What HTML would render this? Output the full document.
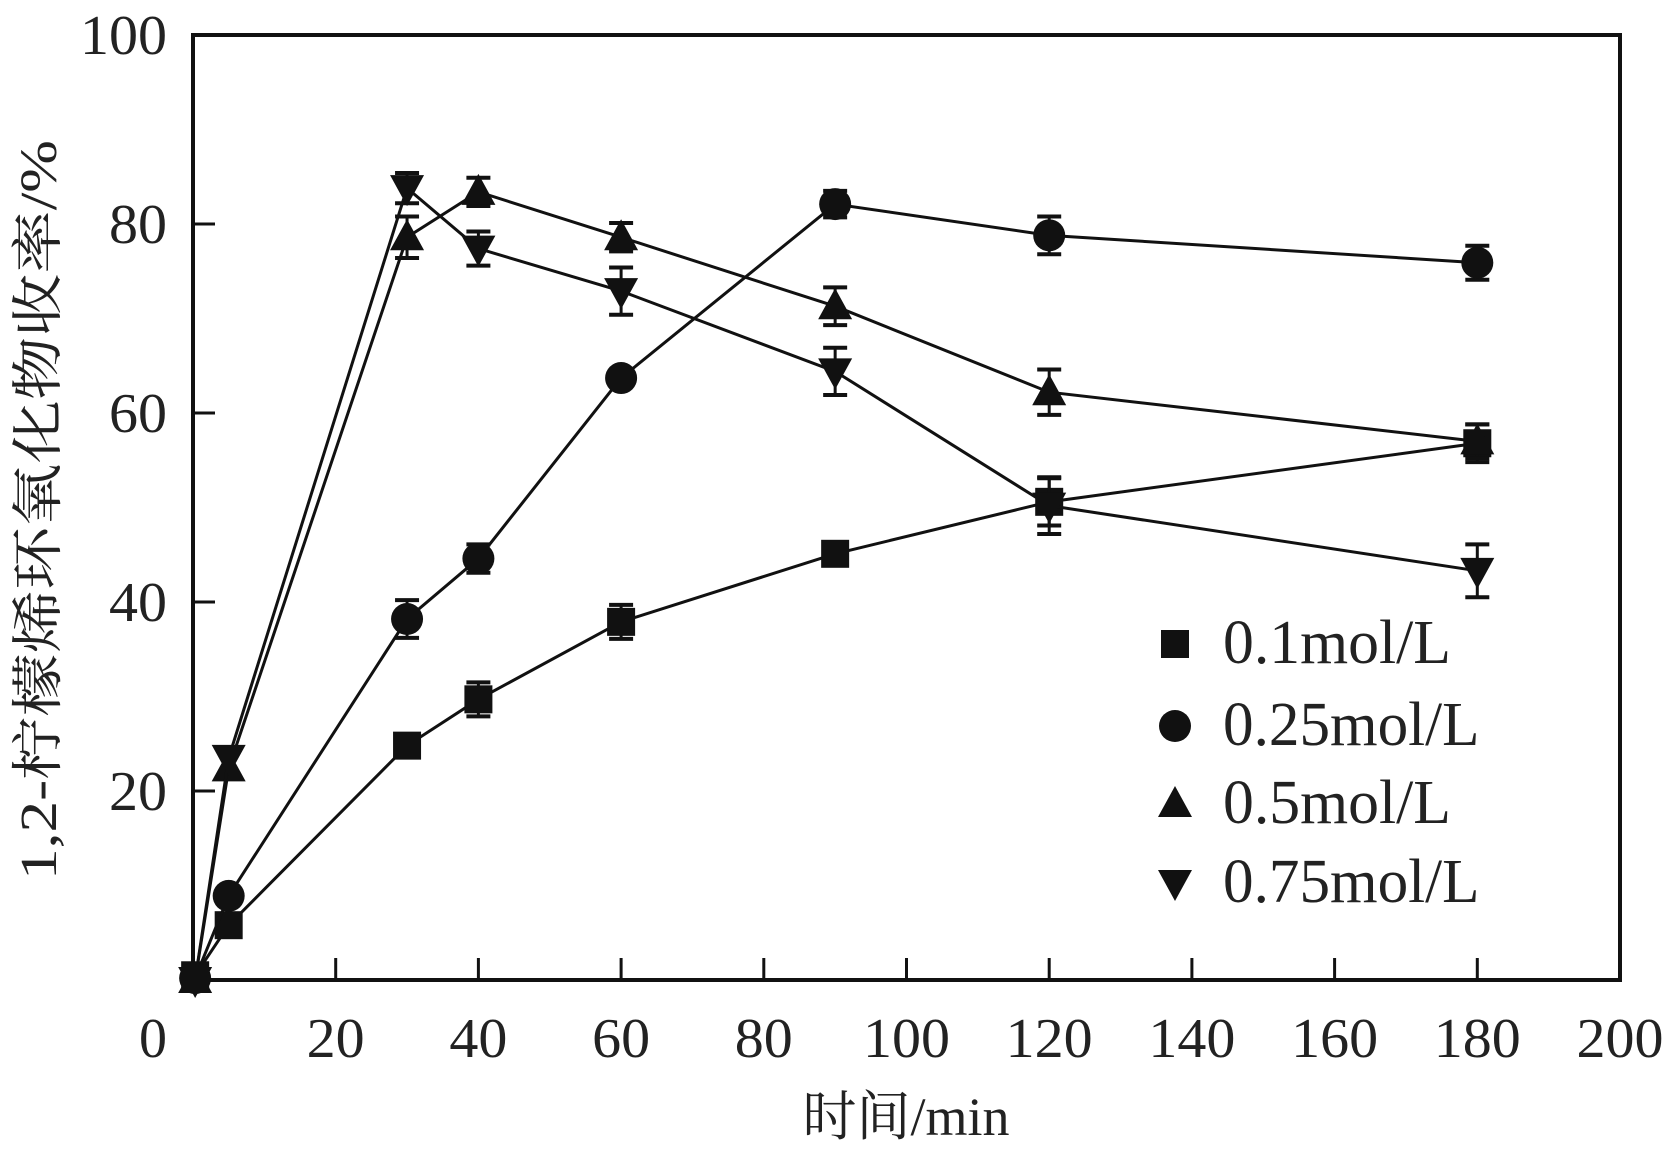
<!DOCTYPE html>
<html><head><meta charset="utf-8"><style>body{margin:0;background:#fff}svg{display:block}</style></head>
<body>
<svg id="chart" width="1665" height="1152" xmlns="http://www.w3.org/2000/svg" font-family="'Liberation Serif','Noto Serif CJK SC',serif"></svg>
<script>
const xTicks=[0,20,40,60,80,100,120,140,160,180,200];
const yTicks=[20,40,60,80,100];
const times=[0.3,5,30,40,60,90,120,180];
const s01=[0.5,5.8,24.8,29.7,37.9,45.1,50.6,56.8];
const s025=[0.2,8.9,38.2,44.6,63.7,82.1,78.8,75.9];
const s05=[0,22.4,78.6,83.4,78.6,71.3,62.2,57];
const s075=[0,23.5,83.8,77.4,72.9,64.4,50.2,43.3];
const e01=[0,0,1.2,1.8,1.8,0.8,2.5,2];
const e025=[0,0,2,1.5,0,1.4,2,1.8];
const e05=[0,0,2.2,1.5,1.5,2,2.4,1.8];
const e075=[0,0,1.6,1.8,2.5,2.5,3,2.8];
const labels=['0.1mol/L','0.25mol/L','0.5mol/L','0.75mol/L'];
const X0=193,X1=1620,Y0=980,Y1=35;
const sx=v=>X0+(X1-X0)*v/200, sy=v=>Y0-(Y0-Y1)*v/100;
const svg=document.getElementById('chart');const NS='http://www.w3.org/2000/svg';
function mk(t,a,p){const e=document.createElementNS(NS,t);for(const k in a)e.setAttribute(k,a[k]);(p||svg).appendChild(e);return e;}
let fr=mk('rect',{x:X0,y:Y1,width:X1-X0,height:Y0-Y1,fill:'none',stroke:'#111','stroke-width':4});

xTicks.forEach(v=>{const x=sx(v);
 if(v>0&&v<200){const t=mk('line',{x1:x,x2:x,y1:Y0,y2:Y0-22,stroke:'#111','stroke-width':3});}
 if(v===0)return;
 const l=mk('text',{x:x,y:1057,'font-size':56,'text-anchor':'middle',textLength:String(v).length*29,lengthAdjust:'spacingAndGlyphs',fill:'#222'});l.textContent=v;
 });
yTicks.forEach(v=>{const y=sy(v);
 if(v<100){const t=mk('line',{x1:X0,x2:X0+22,y1:y,y2:y,stroke:'#111','stroke-width':3});}
 const l=mk('text',{x:167,y:y+19,'font-size':56,'text-anchor':'end',textLength:String(v).length*29,lengthAdjust:'spacingAndGlyphs',fill:'#222'});l.textContent=v;
 });
const z=mk('text',{x:153,y:1057,'font-size':56,'text-anchor':'middle',fill:'#222'});z.textContent='0';

const xt=mk('text',{x:906,y:1135,'font-size':54,'text-anchor':'middle',fill:'#222'});xt.textContent='时间/min';

const yt=mk('text',{x:0,y:0,'font-size':52,'text-anchor':'middle',fill:'#222',transform:'translate(56,510) rotate(-90)',textLength:740,lengthAdjust:'spacingAndGlyphs'});yt.textContent='1,2-柠檬烯环氧化物收率/%';

function marker(type,x,y,g){
 if(type==0)return mk('rect',{x:x-14,y:y-14,width:28,height:28,fill:'#111'},g);
 if(type==1)return mk('circle',{cx:x,cy:y,r:16,fill:'#111'},g);
 if(type==2)return mk('polygon',{points:`${x-17},${y+13} ${x+17},${y+13} ${x},${y-18}`,fill:'#111'},g);
 return mk('polygon',{points:`${x-17},${y-13} ${x+17},${y-13} ${x},${y+18}`,fill:'#111'},g);}
const series=[s01,s025,s05,s075],errs=[e01,e025,e05,e075],names=['series-0-1','series-0-25','series-0-5','series-0-75'];
series.forEach((s,i)=>{const g=mk('g',{});
 const pl=mk('polyline',{points:s.map((v,j)=>sx(times[j])+','+sy(v)).join(' '),fill:'none',stroke:'#111','stroke-width':3},g);
 
 s.forEach((v,j)=>{const x=sx(times[j]),e=errs[i][j];
  if(e>0){const a=sy(v+e),b=sy(v-e);
   mk('line',{x1:x,x2:x,y1:a,y2:b,stroke:'#111','stroke-width':3},g);
   mk('line',{x1:x-12,x2:x+12,y1:a,y2:a,stroke:'#111','stroke-width':4},g);
   mk('line',{x1:x-12,x2:x+12,y1:b,y2:b,stroke:'#111','stroke-width':4},g);}
  const m=marker(i,x,sy(v),g);});});
const lg=mk('g',{});
const base=[663,745,823,902];
labels.forEach((t,i)=>{const m=marker(i,1175,base[i]-19,lg);
 const l=mk('text',{x:1223,y:base[i],'font-size':62,fill:'#222',textLength:t.length*28.5,lengthAdjust:'spacingAndGlyphs'},lg);l.textContent=t;
 });
</script>
</body></html>
